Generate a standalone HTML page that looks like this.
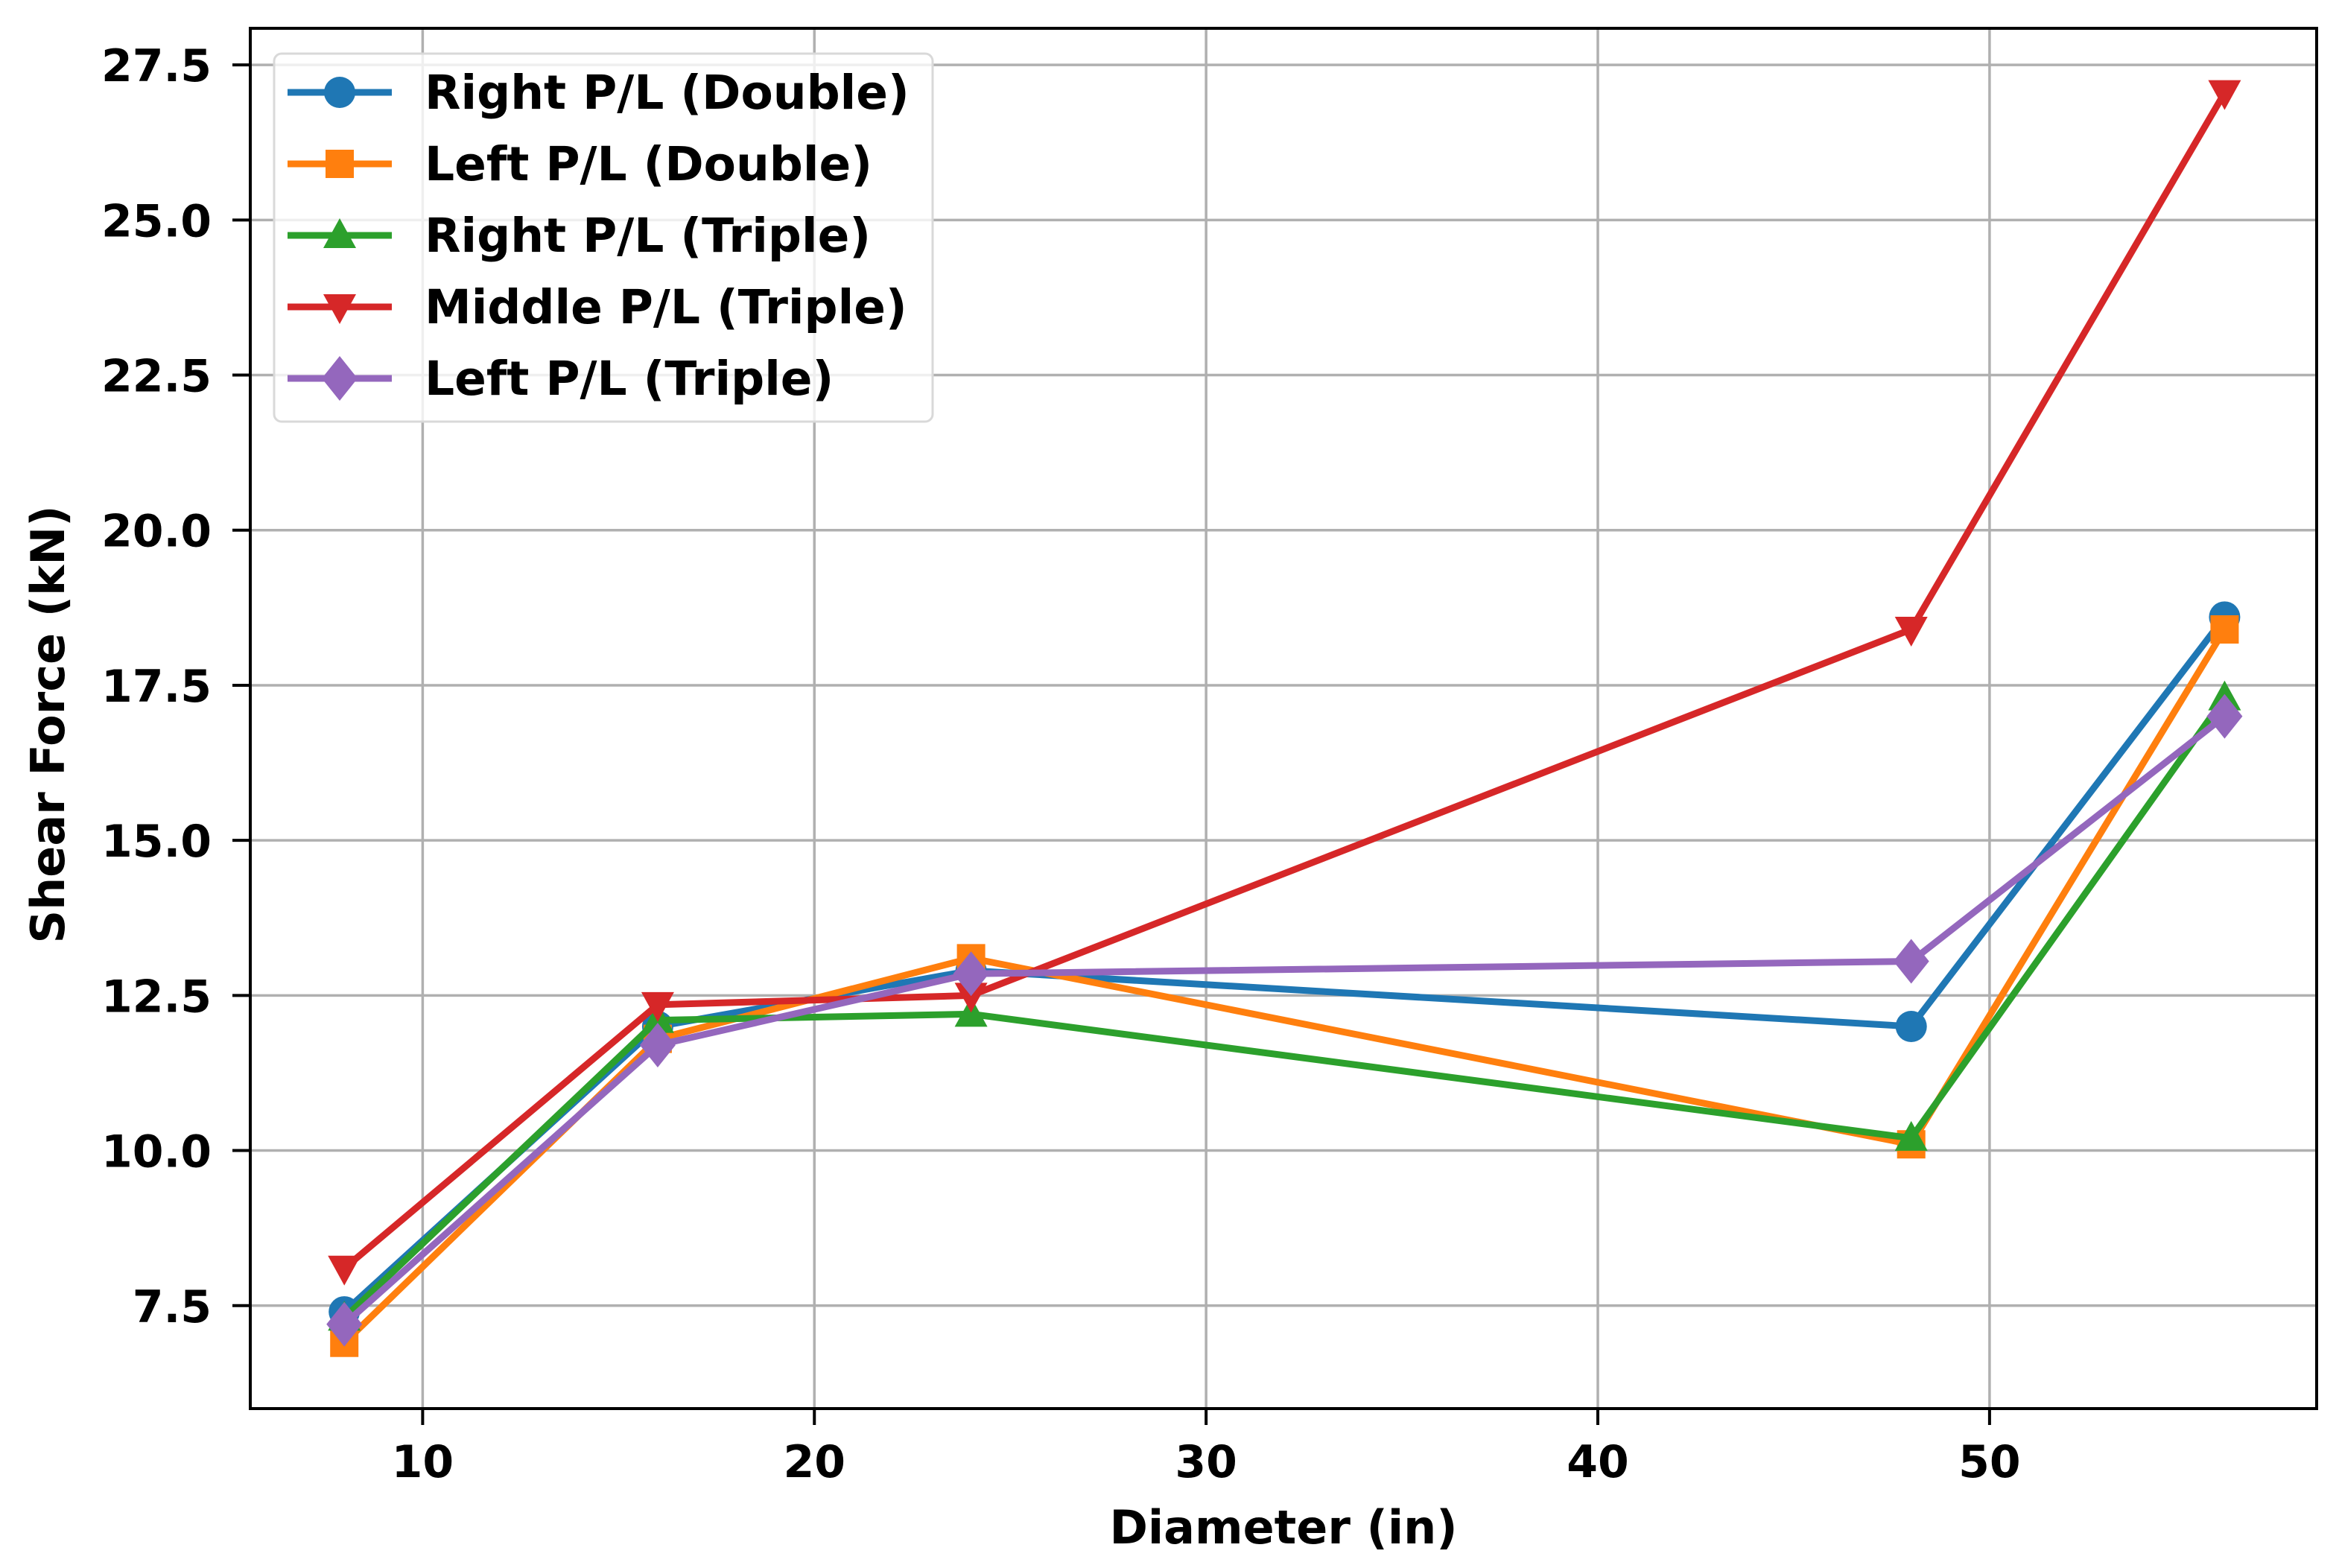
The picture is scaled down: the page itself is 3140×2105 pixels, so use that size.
<!DOCTYPE html>
<html><head><meta charset="utf-8"><style>
html,body{margin:0;padding:0;background:#fff}
svg{display:block}
text{font-family:"DejaVu Sans","Liberation Sans",sans-serif;font-weight:bold;fill:#000}
</style></head><body>
<svg id="chart" width="3140" height="2105" viewBox="0 0 3140 2105" xmlns="http://www.w3.org/2000/svg">
<rect width="3140" height="2105" fill="#fff"/>
<g id="grid"></g>
<g id="axes"></g>
<g id="series"></g>
<g id="legend"></g>
</svg>
<script>
const xValues = [8, 16, 24, 48, 56];
const rightDouble = [7.4, 12.0, 12.9, 12.0, 18.6];
const leftDouble = [6.9, 11.8, 13.1, 10.1, 18.4];
const rightTriple = [7.3, 12.1, 12.2, 10.2, 17.3];
const middleTriple = [8.1, 12.35, 12.5, 18.4, 27.05];
const leftTriple = [7.2, 11.7, 12.85, 13.05, 17.0];
const xTicks = [10, 20, 30, 40, 50];
const yTicks = [7.5, 10.0, 12.5, 15.0, 17.5, 20.0, 22.5, 25.0, 27.5];
const seriesNames = ["Right P/L (Double)", "Left P/L (Double)", "Right P/L (Triple)", "Middle P/L (Triple)", "Left P/L (Triple)"];

const NS = "http://www.w3.org/2000/svg";
const L = 336, R = 3110, T = 38, B = 1891;
const XMIN = 5.6, XMAX = 58.35, YMIN = 5.84, YMAX = 28.09;
const sx = v => L + (v - XMIN) / (XMAX - XMIN) * (R - L);
const sy = v => B - (v - YMIN) / (YMAX - YMIN) * (B - T);
function mk(tag, attrs, parent) {
  const e = document.createElementNS(NS, tag);
  for (const k in attrs) e.setAttribute(k, attrs[k]);
  parent.appendChild(e);
  return e;
}
const grid = document.getElementById('grid'), axes = document.getElementById('axes');
const series = document.getElementById('series'), legend = document.getElementById('legend');

xTicks.forEach(t => {
  const x = sx(t);
  const g = mk('line', {x1: x, x2: x, y1: T, y2: B, stroke: '#b0b0b0', 'stroke-width': 3.5}, grid);
  
  
  const tk = mk('line', {x1: x, x2: x, y1: B, y2: B + 22, stroke: '#000', 'stroke-width': 4}, axes);
  
  
  const tx = mk('text', {x: x, y: B + 92, 'text-anchor': 'middle', 'font-size': 60}, axes);
  tx.textContent = t;
  
  
});
yTicks.forEach(t => {
  const y = sy(t);
  const g = mk('line', {x1: L, x2: R, y1: y, y2: y, stroke: '#b0b0b0', 'stroke-width': 3.5}, grid);
  
  
  const tk = mk('line', {x1: L - 24, x2: L, y1: y, y2: y, stroke: '#000', 'stroke-width': 4}, axes);
  
  
  const tx = mk('text', {x: L - 52, y: y + 22, 'text-anchor': 'end', 'font-size': 60}, axes);
  tx.textContent = t.toFixed(1);
  
  
});
const frame = mk('rect', {x: L, y: T, width: R - L, height: B - T, fill: 'none', stroke: '#000', 'stroke-width': 4}, axes);


const xl = mk('text', {x: (L + R) / 2, y: 2072, 'text-anchor': 'middle', 'font-size': 62}, axes);
xl.textContent = 'Diameter (in)';


const yl = mk('text', {x: 0, y: 0, 'text-anchor': 'middle', 'font-size': 62, transform: 'translate(86,' + ((T + B) / 2 + 8) + ') rotate(-90)'}, axes);
yl.textContent = 'Shear Force (kN)';



const colors = ['#1f77b4', '#ff7f0e', '#2ca02c', '#d62728', '#9467bd'];
const markers = ['circle', 'square', 'tri-up', 'tri-down', 'diamond'];
const data = [rightDouble, leftDouble, rightTriple, middleTriple, leftTriple];
function marker(type, x, y, c, parent) {
  let e;
  if (type === 'circle') e = mk('circle', {cx: x, cy: y, r: 21, fill: c}, parent);
  else if (type === 'square') e = mk('rect', {x: x - 19, y: y - 19, width: 38, height: 38, fill: c}, parent);
  else if (type === 'tri-up') e = mk('polygon', {points: `${x},${y-23} ${x+22},${y+17} ${x-22},${y+17}`, fill: c}, parent);
  else if (type === 'tri-down') e = mk('polygon', {points: `${x},${y+23} ${x+22},${y-17} ${x-22},${y-17}`, fill: c}, parent);
  else e = mk('polygon', {points: `${x},${y-30} ${x+24},${y} ${x},${y+30} ${x-24},${y}`, fill: c}, parent);
  return e;
}
data.forEach((vals, i) => {
  const g = mk('g', {}, series);
  
  
  const pts = vals.map((v, j) => sx(xValues[j]) + ',' + sy(v)).join(' ');
  const pl = mk('polyline', {points: pts, fill: 'none', stroke: colors[i], 'stroke-width': 9, 'stroke-linejoin': 'round'}, g);
  
  
  vals.forEach((v, j) => {
    const m = marker(markers[i], sx(xValues[j]), sy(v), colors[i], g);
    
    
  });
});

const lb = mk('rect', {x: 368, y: 72, width: 884, height: 494, rx: 10, fill: '#fff', 'fill-opacity': 0.8, stroke: '#d9d9d9', 'stroke-width': 3}, legend);


seriesNames.forEach((n, i) => {
  const y = 124 + i * 96;
  const g = mk('g', {}, legend);
  
  
  mk('line', {x1: 386, x2: 526, y1: y, y2: y, stroke: colors[i], 'stroke-width': 9}, g);
  marker(markers[i], 456, y, colors[i], g);
  const t = mk('text', {x: 570, y: y + 22, 'font-size': 63}, g);
  t.textContent = n;
});
</script>
</body></html>
